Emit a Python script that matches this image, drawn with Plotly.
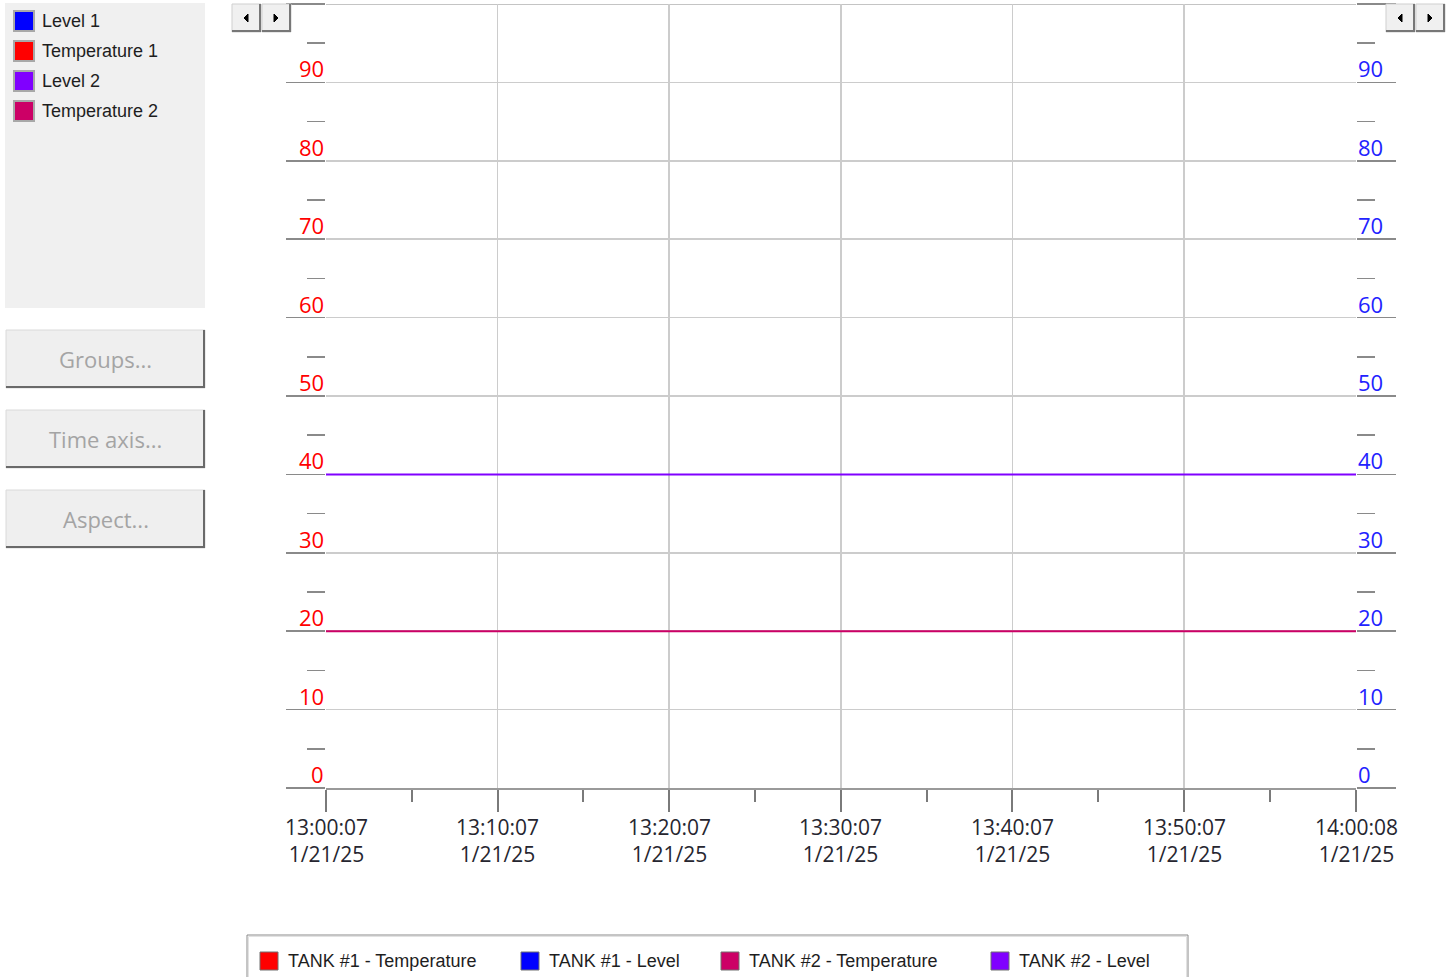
import plotly.graph_objects as go

W, H = 1452, 977

# ---------------- data ----------------
times = ["2025-01-21 13:00:07", "2025-01-21 14:00:08"]
tank1_temperature = [None, None]
tank1_level = [None, None]
tank2_temperature = [20, 20]
tank2_level = [40, 40]

x_tick_vals = ["2025-01-21 13:00:07", "2025-01-21 13:10:07", "2025-01-21 13:20:07",
               "2025-01-21 13:30:07", "2025-01-21 13:40:07", "2025-01-21 13:50:07",
               "2025-01-21 14:00:08"]
x_tick_times = ["13:00:07", "13:10:07", "13:20:07", "13:30:07", "13:40:07", "13:50:07", "14:00:08"]
x_tick_dates = ["1/21/25"] * 7
x_minor_vals = ["2025-01-21 13:05:07", "2025-01-21 13:15:07", "2025-01-21 13:25:07",
                "2025-01-21 13:35:07", "2025-01-21 13:45:07", "2025-01-21 13:55:07"]
y_tick_vals = [0, 10, 20, 30, 40, 50, 60, 70, 80, 90, 100]
y_label_vals = [0, 10, 20, 30, 40, 50, 60, 70, 80, 90]
y_minor_vals = [5, 15, 25, 35, 45, 55, 65, 75, 85, 95]
y_top = 100

side_items = ["Level 1", "Temperature 1", "Level 2", "Temperature 2"]
side_colors = ["#0000ff", "#ff0000", "#8000ff", "#cc0066"]
bottom_items = ["TANK #1 - Temperature", "TANK #1 - Level", "TANK #2 - Temperature", "TANK #2 - Level"]
bottom_colors = ["#ff0000", "#0000ff", "#cc0066", "#8000ff"]
buttons = ["Groups...", "Time axis...", "Aspect..."]

# ---------------- helpers ----------------
def px(x):
    return x / W

def py(y):
    return 1 - y / H

AX_FONT = "Open Sans, Noto Sans, sans-serif"
UI_FONT = "Liberation Sans, Arial, sans-serif"
BTN_FONT = "Open Sans, Noto Sans, sans-serif"
GRID = "#cccccc"

shapes = []
annotations = []

def rect(x0, y0, x1, y1, fill, line="rgba(0,0,0,0)", lw=0, layer="above"):
    shapes.append(dict(type="rect", xref="paper", yref="paper",
                       x0=px(x0), x1=px(x1), y0=py(y1), y1=py(y0),
                       fillcolor=fill, line=dict(color=line, width=lw), layer=layer))

def seg(x0, y0, x1, y1, color, lw=1):
    shapes.append(dict(type="line", xref="paper", yref="paper",
                       x0=px(x0), x1=px(x1), y0=py(y0), y1=py(y1),
                       line=dict(color=color, width=lw), layer="above"))

def text(x, y, s, size, color, xanchor="left", font=UI_FONT):
    annotations.append(dict(xref="paper", yref="paper", x=px(x), y=py(y), text=s,
                            showarrow=False, xanchor=xanchor, yanchor="middle",
                            font=dict(family=font, size=size, color=color)))

# ---------------- figure ----------------
fig = go.Figure()
fig.add_trace(go.Scatter(x=times, y=tank1_temperature, mode="lines", name="TANK #1 - Temperature",
                         line=dict(color="#ff0000", width=2), yaxis="y"))
fig.add_trace(go.Scatter(x=times, y=tank1_level, mode="lines", name="TANK #1 - Level",
                         line=dict(color="#0000ff", width=2), yaxis="y2"))
fig.add_trace(go.Scatter(x=times, y=tank2_temperature, mode="lines", name="TANK #2 - Temperature",
                         line=dict(color="#cc0066", width=2), yaxis="y"))
fig.add_trace(go.Scatter(x=times, y=tank2_level, mode="lines", name="TANK #2 - Level",
                         line=dict(color="#8000ff", width=2), yaxis="y2"))

# top border of the plot area (at the top of the value range)
shapes.append(dict(type="line", xref="x", yref="y", x0=times[0], x1=times[-1], y0=y_top, y1=y_top,
                   line=dict(color="#c4c4c4", width=2), layer="below"))

# left side panel
rect(5, 3, 205, 308, "#f0f0f0", layer="below")
for i, (name, col) in enumerate(zip(side_items, side_colors)):
    top = 11 + 30 * i
    rect(14, top, 34, top + 20, col, line="#a8a8a8", lw=2)
    text(40, top + 10, name, 18, "#1e1e1e")

# buttons
for i, name in enumerate(buttons):
    y0 = 330 + 80 * i
    y1 = y0 + 58
    rect(6, y0, 205, y1, "#efefef", line="#dadada", lw=1)
    seg(6, y1 - 1, 205, y1 - 1, "#6a6a6a", 2)
    seg(204, y0, 204, y1, "#6a6a6a", 2)
    text(105.5, (y0 + y1) / 2, name, 22, "#a4a4a4", xanchor="center", font=BTN_FONT)

# scroll buttons
for bx in (232, 262, 1386, 1416):
    rect(bx, 4, bx + 29, 32, "#f0f0f0", line="#cfcfcf", lw=1)
    seg(bx, 31, bx + 29, 31, "#777777", 2)
    seg(bx + 28, 4, bx + 28, 32, "#777777", 2)
for bx, d in ((232, -1), (262, 1), (1386, -1), (1416, 1)):
    cx = bx + 14
    if d < 0:
        path = f"M {px(cx+2)},{py(14)} L {px(cx-2)},{py(18)} L {px(cx+2)},{py(22)} Z"
    else:
        path = f"M {px(cx-2)},{py(14)} L {px(cx+2)},{py(18)} L {px(cx-2)},{py(22)} Z"
    shapes.append(dict(type="path", xref="paper", yref="paper", path=path,
                       fillcolor="#000000", line=dict(color="#000000", width=1), layer="above"))

# y labels
for v in y_label_vals:
    annotations.append(dict(xref="paper", yref="y", x=px(326), y=v, text=str(v),
                            showarrow=False, xanchor="right", yanchor="bottom", xshift=0, yshift=-3,
                            font=dict(family=AX_FONT, size=22, color="#ff0000")))
    annotations.append(dict(xref="paper", yref="y2", x=px(1356), y=v, text=str(v),
                            showarrow=False, xanchor="left", yanchor="bottom", xshift=0, yshift=-3,
                            font=dict(family=AX_FONT, size=22, color="#2222ff")))

# x labels (time line + date line)
for tv, t, d in zip(x_tick_vals, x_tick_times, x_tick_dates):
    annotations.append(dict(xref="x", yref="paper", x=tv, y=py(840), text=f"{t}<br>{d}",
                            showarrow=False, xanchor="center", yanchor="middle", align="center",
                            font=dict(family=AX_FONT, size=21, color="#262630")))

# bottom legend box
rect(247, 935, 1188, 990, "#ffffff", line="#8a8a8a", lw=1, layer="below")
rect(248.5, 936.5, 1186.5, 990, "rgba(0,0,0,0)", line="#e2e2e2", lw=1)
for name, col, sx in zip(bottom_items, bottom_colors, (260, 521, 721, 991)):
    rect(sx, 952, sx + 18, 970, col, line="#707070", lw=1)
    text(sx + 26, 961, name, 18, "#1e1e1e")

common_y = dict(range=[0, 100], domain=[py(788), py(4)], automargin=False,
                tickmode="array", tickvals=y_tick_vals, showticklabels=False,
                ticks="outside", ticklen=39, tickcolor="#8a8a8a", tickwidth=1.5,
                zeroline=False, showline=False, fixedrange=True,
                minor=dict(tickmode="array", tickvals=y_minor_vals, ticks="outside",
                           ticklen=18, tickcolor="#8a8a8a", tickwidth=1.5, showgrid=False))

fig.update_layout(
    template="none",
    width=W, height=H,
    margin=dict(l=0, r=0, t=0, b=0, pad=0, autoexpand=False),
    paper_bgcolor="#ffffff", plot_bgcolor="#ffffff",
    showlegend=False,
    xaxis=dict(type="date", range=[times[0], times[-1]], domain=[px(326), px(1356)],
               automargin=False,
               tickmode="array", tickvals=x_tick_vals, showticklabels=False,
               ticks="outside", ticklen=22, tickcolor="#7a7a7a", tickwidth=2,
               showgrid=True, gridcolor=GRID, gridwidth=1.5,
               showline=True, linecolor="#9a9a9a", linewidth=2, zeroline=False,
               fixedrange=True,
               minor=dict(tickmode="array", tickvals=x_minor_vals, ticks="outside",
                          ticklen=12, tickcolor="#7a7a7a", tickwidth=2, showgrid=False)),
    yaxis=dict(**common_y, showgrid=True, gridcolor=GRID, gridwidth=1.5),
    yaxis2=dict(**common_y, overlaying="y", side="right", anchor="x", showgrid=False),
    shapes=shapes,
    annotations=annotations,
)

fig.write_html("out.html", config={"displayModeBar": False, "staticPlot": True},
               post_script="document.body.style.margin='0';document.body.style.overflow='hidden';")
